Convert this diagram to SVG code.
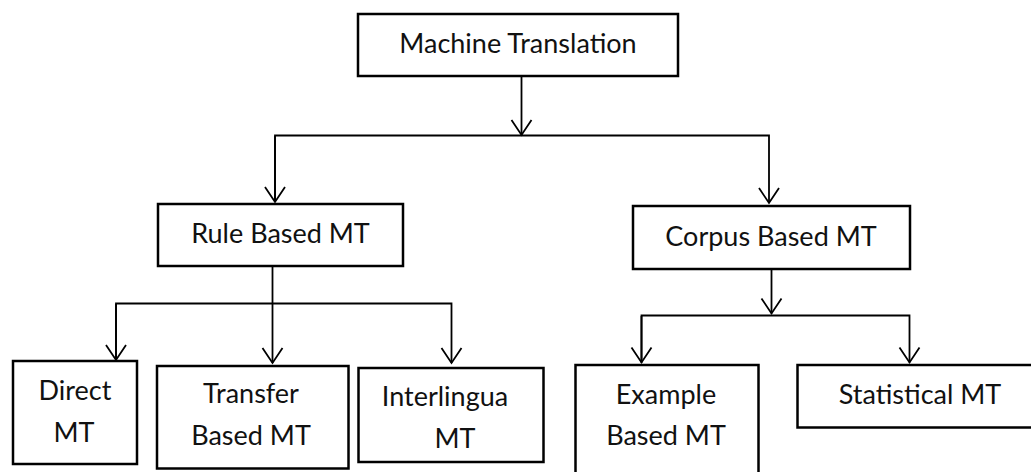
<svg xmlns="http://www.w3.org/2000/svg" width="1031" height="472" viewBox="0 0 1031 472">
  <style>
    .box { fill: #ffffff; stroke: #000000; stroke-width: 2.5; }
    .lbl { font-family: Lato, "Open Sans", sans-serif; font-size: 27px; fill: #111111; text-anchor: middle; }
    .wire { fill: none; stroke: #000000; stroke-width: 1.8; }
  </style>
  <defs>
    <marker id="vhead" markerUnits="userSpaceOnUse" markerWidth="20" markerHeight="24" viewBox="-17 -12 20 24" refX="0" refY="0" orient="auto">
      <path d="M -15 -10 L 0 0 L -15 10" fill="none" stroke="#000000" stroke-width="1.8"/>
    </marker>
  </defs>

  <rect width="1031" height="472" fill="#ffffff"/>

  <g id="connectors">
    <!-- root to the split bar -->
    <line class="wire" x1="521.5" y1="76" x2="521.5" y2="135" marker-end="url(#vhead)"/>
    <polyline class="wire" points="275,202 275,135.5 769,135.5 769,203" marker-end="url(#vhead)"/>
    <line class="wire" x1="275" y1="136" x2="275" y2="202" marker-end="url(#vhead)"/>
    <!-- rule based branch -->
    <line class="wire" x1="272.5" y1="266" x2="272.5" y2="363" marker-end="url(#vhead)"/>
    <polyline class="wire" points="116,360 116,303.5 451.5,303.5 451.5,363" marker-end="url(#vhead)"/>
    <line class="wire" x1="116" y1="304" x2="116" y2="360" marker-end="url(#vhead)"/>
    <!-- corpus based branch -->
    <line class="wire" x1="771.5" y1="269" x2="771.5" y2="313.5" marker-end="url(#vhead)"/>
    <polyline class="wire" points="641.5,362.5 641.5,315.5 909.5,315.5 909.5,362.5" marker-end="url(#vhead)"/>
    <line class="wire" x1="641.5" y1="316" x2="641.5" y2="362.5" marker-end="url(#vhead)"/>
  </g>

  <g id="machine-translation">
    <rect class="box" x="358" y="14" width="320" height="62"/>
    <text class="lbl" x="518" y="53">Machine Translation</text>
  </g>

  <g id="rule-based">
    <rect class="box" x="158" y="204" width="245" height="62"/>
    <text class="lbl" x="280.5" y="242.5">Rule Based MT</text>
  </g>

  <g id="corpus-based">
    <rect class="box" x="633" y="206" width="277" height="63"/>
    <text class="lbl" x="771" y="246">Corpus Based MT</text>
  </g>

  <g id="direct">
    <rect class="box" x="13" y="361" width="124" height="103"/>
    <text class="lbl" x="75" y="400">Direct</text>
    <text class="lbl" x="74" y="442">MT</text>
  </g>

  <g id="transfer">
    <rect class="box" x="157" y="366" width="191.5" height="102.5"/>
    <text class="lbl" x="251" y="403">Transfer</text>
    <text class="lbl" x="251" y="445">Based MT</text>
  </g>

  <g id="interlingua">
    <rect class="box" x="358.5" y="368" width="185" height="94"/>
    <text class="lbl" x="445" y="406">Interlingua</text>
    <text class="lbl" x="455" y="448">MT</text>
  </g>

  <g id="example-based">
    <rect class="box" x="575.5" y="365" width="183" height="115"/>
    <text class="lbl" x="666" y="403.5">Example</text>
    <text class="lbl" x="666" y="445">Based MT</text>
  </g>

  <g id="statistical">
    <rect class="box" x="797.5" y="365" width="240" height="62.5"/>
    <text class="lbl" x="920" y="403.5">Statistical MT</text>
  </g>
</svg>
